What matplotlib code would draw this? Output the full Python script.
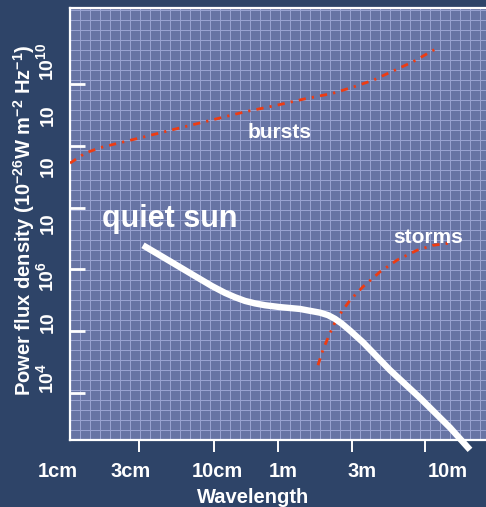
import matplotlib
matplotlib.use("Agg")
import matplotlib.pyplot as plt
from matplotlib.ticker import MultipleLocator
from matplotlib.transforms import blended_transform_factory

plt.rcParams['font.family'] = ['Liberation Sans', 'DejaVu Sans']
plt.rcParams['font.weight'] = 'bold'
plt.rcParams['mathtext.default'] = 'regular'

# ---- data (schematic units: x = position along wavelength axis, y = log10 flux decades) ----
quiet_x = [0.73, 0.95, 1.20, 1.42, 1.55, 1.65, 1.75, 1.85, 1.95, 2.10, 2.30, 2.50, 2.58, 2.65, 2.72, 2.80, 2.93, 3.20, 3.50, 3.80, 4.00]
quiet_y = [6.39, 6.18, 5.94, 5.73, 5.62, 5.55, 5.49, 5.45, 5.42, 5.39, 5.36, 5.30, 5.26, 5.20, 5.12, 5.01, 4.82, 4.37, 3.92, 3.44, 3.08]

bursts_x = [0.0, 0.15, 0.30, 0.73, 1.10, 1.50, 1.75, 2.05, 2.35, 2.63, 2.83, 3.03, 3.23, 3.43, 3.67]
bursts_y = [7.72, 7.88, 7.97, 8.14, 8.29, 8.45, 8.55, 8.65, 8.76, 8.85, 8.95, 9.06, 9.21, 9.36, 9.58]

storms_x = [2.48, 2.53, 2.60, 2.67, 2.80, 2.93, 3.10, 3.27, 3.47, 3.63, 3.82]
storms_y = [4.45, 4.70, 4.97, 5.21, 5.50, 5.72, 5.96, 6.15, 6.31, 6.39, 6.43]

y_tick_pos = [4, 5, 6, 7, 8, 9]
y_label_pos = [4.24, 5.15, 5.89, 6.75, 7.67, 8.50, 9.36]
y_labels = [r'$10^{4}$', '10', r'$10^{6}$', '10', '10', '10', r'$10^{10}$']

x_tick_pos = [0.69, 1.44, 2.08, 2.82, 3.55]
x_label_pos = [0.61, 1.47, 2.13, 2.92, 3.78]
x_labels = ['3cm', '10cm', '1m', '3m', '10m']
x_outer_label_pos = -0.12
x_outer_label = '1cm'

BG = '#2E4468'
FILL = '#6774A4'
GRID = '#98A2D0'
RED = '#EE3B12'

fig = plt.figure(figsize=(4.86, 5.07), dpi=100, facecolor=BG)
pos = [70/486, 1 - 440/507, 423/486, 432/507]

# background grid panel
bg = fig.add_axes(pos, zorder=0)
bg.set_facecolor(FILL)
bg.set_xlim(0, 42.3)
bg.set_ylim(0, 43.2)
bg.xaxis.set_major_locator(MultipleLocator(1))
bg.yaxis.set_major_locator(MultipleLocator(1))
bg.grid(True, color=GRID, lw=0.75)
bg.tick_params(length=0, labelbottom=False, labelleft=False)
for s in bg.spines.values():
    s.set_visible(False)

ax = fig.add_axes(pos, zorder=1)
ax.set_facecolor('none')
ax.set_xlim(0, 4.23)
ax.set_ylim(4 - 47/61.8, 4 + 385/61.8)

for side in ['top', 'left', 'bottom']:
    ax.spines[side].set_color('white')
    ax.spines[side].set_linewidth(1.6)
ax.spines['right'].set_visible(False)

dash = (2.6, 2.2, 0.8, 2.2)
ax.plot(bursts_x, bursts_y, color=RED, lw=2.0, dashes=dash, zorder=3)
ax.plot(storms_x, storms_y, color=RED, lw=2.0, dashes=dash, zorder=3)
ax.plot(quiet_x, quiet_y, color='white', lw=4.6, solid_capstyle='butt',
        solid_joinstyle='round', clip_on=False, zorder=4)

ax.text(0.32, 6.69, 'quiet sun', color='white', fontsize=22, fontweight='bold',
        ha='left', va='baseline', zorder=5)
ax.text(1.78, 8.13, 'bursts', color='white', fontsize=15, fontweight='bold',
        ha='left', va='baseline', zorder=5)
ax.text(3.23, 6.43, 'storms', color='white', fontsize=15, fontweight='bold',
        ha='left', va='baseline', zorder=5)

# y ticks
ax.set_yticks(y_tick_pos)
ax.set_yticklabels([])
ax.set_yticks(y_label_pos, minor=True)
ax.set_yticklabels(y_labels, minor=True)
ax.tick_params(axis='y', which='major', direction='in', length=10.8, width=2.0, color='white')
ax.tick_params(axis='y', which='minor', length=0, pad=9.4, labelsize=14, labelcolor='white',
               labelrotation=90)
for lbl in ax.get_yticklabels(minor=True):
    lbl.set_va('center')
    lbl.set_fontweight('bold')

# x ticks
ax.set_xticks(x_tick_pos)
ax.set_xticklabels([])
ax.set_xticks(x_label_pos, minor=True)
ax.set_xticklabels(x_labels, minor=True)
ax.tick_params(axis='x', which='major', direction='out', length=8.6, width=1.4, color='white')
ax.tick_params(axis='x', which='minor', length=0, pad=15.8, labelsize=14.5, labelcolor='white')
for lbl in ax.get_xticklabels(minor=True):
    lbl.set_fontweight('bold')

tr = blended_transform_factory(ax.transData, ax.transAxes)
ax.text(x_outer_label_pos, -22/432, x_outer_label, transform=tr, color='white', fontsize=14.5,
        fontweight='bold', ha='center', va='top', clip_on=False)

ax.set_xlabel('Wavelength', color='white', fontsize=14.5, fontweight='bold')
ax.xaxis.set_label_coords((253 - 70)/423, -48/432)
ax.set_ylabel(r'Power flux density (10$^{-26}$W m$^{-2}$ Hz$^{-1}$)', color='white',
              fontsize=14.5, fontweight='bold')
ax.yaxis.set_label_coords(-(70 - 37)/423, (440 - 220)/432)

fig.savefig('out.png', dpi=100, facecolor=BG)
